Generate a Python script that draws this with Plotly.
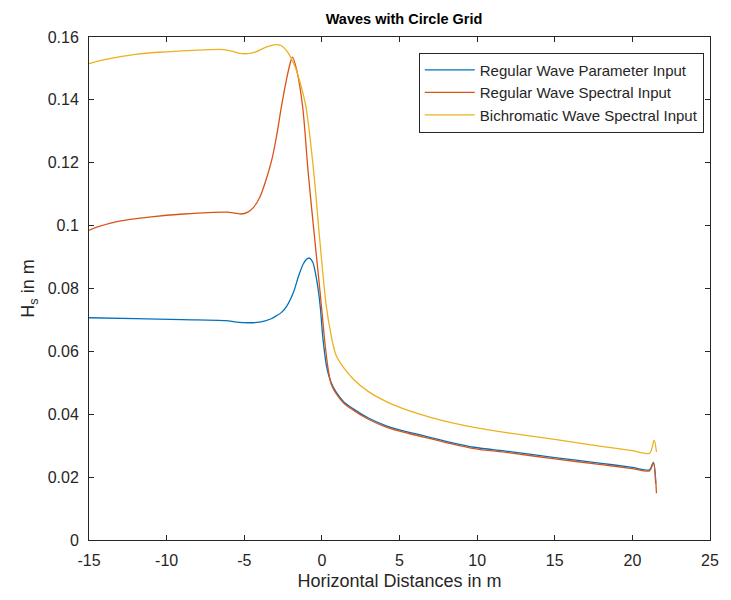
import plotly.graph_objects as go

# ---- data ----
blue_x = [-15, -12, -9, -6.2, -5.5, -4.7, -4.0, -3.3, -2.9, -2.6, -2.25, -1.83, -1.5, -1.2, -1.0,
          -0.82, -0.6, -0.4, -0.24, -0.1, 0.07, 0.33, 0.6, 0.9, 1.4, 2.0, 3.0, 4.1, 5, 6,
          8, 9.8, 12, 15, 18, 20, 21.1, 21.35, 21.5]
blue_y = [0.0707, 0.0704, 0.0701, 0.0698, 0.0693, 0.0691, 0.0693, 0.0703, 0.0714, 0.0724, 0.0745,
          0.0788, 0.0840, 0.0878, 0.0892, 0.0897, 0.0885, 0.0845, 0.0798, 0.0740, 0.0640, 0.0545,
          0.0500, 0.0472, 0.0440, 0.0418, 0.0388, 0.0364, 0.0350, 0.0338, 0.0314,
          0.0295, 0.0282, 0.0262, 0.0244, 0.0231, 0.0223, 0.0247, 0.0180]

red_x = [-15, -14.5, -13.2, -11, -8.9, -6.1, -5.6, -5.2, -4.8, -4.4, -4.0, -3.6, -3.2, -2.9, -2.6,
         -2.3, -2.05, -1.89, -1.6, -1.24, -0.88, -0.46, -0.2, -0.03, 0.2, 0.4, 0.6, 0.9, 1.4,
         2.0, 3.0, 4.1, 5, 6, 8, 9.8, 12, 15, 18, 20, 21.1, 21.35, 21.55]
red_y = [0.0985, 0.0995, 0.1013, 0.1028, 0.1037, 0.1043, 0.1040, 0.1037, 0.1042, 0.1058, 0.1090,
         0.1145, 0.1215, 0.1290, 0.1380, 0.1460, 0.1515, 0.1536, 0.1490, 0.1379, 0.1168, 0.0957,
         0.0830, 0.0745, 0.0625, 0.0545, 0.0496, 0.0467, 0.0436, 0.0414, 0.0384, 0.0360, 0.0346,
         0.0334, 0.0310, 0.0291, 0.0278, 0.0258, 0.0240, 0.0227, 0.0220, 0.0245, 0.0149]

yel_x = [-15, -14, -12, -10, -8, -6.3, -5.8, -5.3, -4.8, -4.3, -3.6, -2.95, -2.6, -2.25, -1.73,
         -1.4, -1.03, -0.52, -0.14, 0.28, 0.6, 0.92, 1.45, 2.0, 3.0, 4.7, 7, 9.8, 12, 15, 18, 20,
         21.1, 21.4, 21.55]
yel_y = [0.1515, 0.1528, 0.1545, 0.1553, 0.1558, 0.1560, 0.1555, 0.1548, 0.1547, 0.1552, 0.1568,
         0.1576, 0.1572, 0.1555, 0.1506, 0.1455, 0.1379, 0.1168, 0.0957, 0.0746, 0.0650, 0.0587,
         0.0545, 0.0513, 0.0472, 0.0428, 0.0390, 0.0358, 0.0341, 0.0320, 0.0298, 0.0284, 0.0276,
         0.0317, 0.0280]

names = ["Regular Wave Parameter Input", "Regular Wave Spectral Input",
         "Bichromatic Wave Spectral Input"]
colors = ["#0072BD", "#D95319", "#EDB120"]

x_ticks = [-15, -10, -5, 0, 5, 10, 15, 20, 25]
x_tick_text = ["-15", "-10", "-5", "0", "5", "10", "15", "20", "25"]
y_ticks = [0, 0.02, 0.04, 0.06, 0.08, 0.1, 0.12, 0.14, 0.16]
y_tick_text = ["0", "0.02", "0.04", "0.06", "0.08", "0.1", "0.12", "0.14", "0.16"]

FONT = "Liberation Sans, Arial, sans-serif"
AX = "#262626"

fig = go.Figure()
for xs, ys, n, c in zip([blue_x, red_x, yel_x], [blue_y, red_y, yel_y], names, colors):
    fig.add_trace(go.Scatter(x=xs, y=ys, mode="lines", name=n,
                             line=dict(color=c, width=1.3, shape="spline", smoothing=0.9)))

axis_common = dict(showline=True, linecolor=AX, linewidth=1, mirror="ticks",
                   ticks="inside", ticklen=5, tickcolor=AX, showgrid=False, zeroline=False,
                   ticklabelstandoff=6,
                   tickfont=dict(family=FONT, size=16, color=AX))

fig.update_layout(
    width=731, height=600,
    margin=dict(l=89, r=12, t=37, b=58),
    paper_bgcolor="white", plot_bgcolor="white",
    title=dict(text="<b>Waves with Circle Grid</b>", x=0.5527, xanchor="center",
               y=0.968, yanchor="middle",
               font=dict(family=FONT, size=14.5, color="black")),
    xaxis=dict(range=[-15, 25], tickvals=x_ticks, ticktext=x_tick_text,
               title=dict(text="Horizontal Distances in m", standoff=6,
                          font=dict(family=FONT, size=18, color=AX)),
               **axis_common),
    yaxis=dict(range=[0, 0.16], tickvals=y_ticks, ticktext=y_tick_text,
               title=dict(text="H<sub>s</sub> in m", standoff=8,
                          font=dict(family=FONT, size=18, color=AX)),
               **axis_common),
    legend=dict(x=0.99, xanchor="right", y=0.969, yanchor="top",
                bgcolor="white", bordercolor=AX, borderwidth=1,
                font=dict(family=FONT, size=15, color=AX),
                itemwidth=50, tracegroupgap=0),
    showlegend=True,
)

fig.write_html("out.html")
